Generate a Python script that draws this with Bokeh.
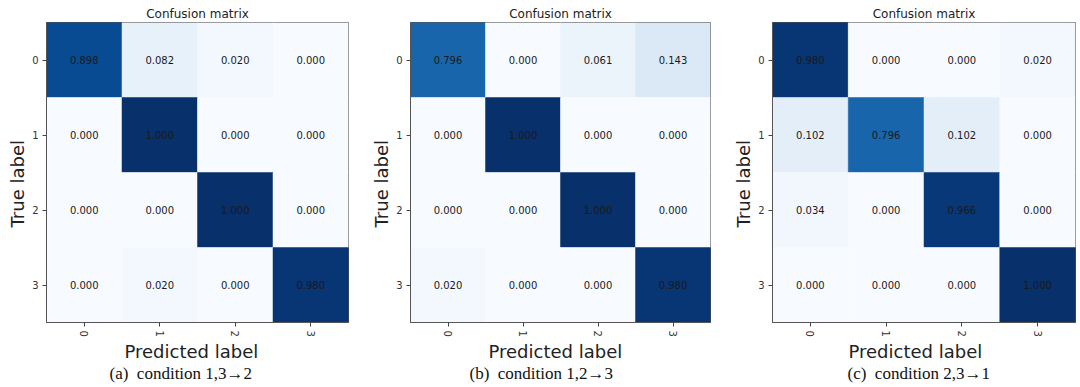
import numpy as np
from bokeh.plotting import figure
from bokeh.models import ColumnDataSource, LinearColorMapper, FactorRange, Title
from bokeh.layouts import row
from bokeh.embed import file_html
from bokeh.resources import INLINE

classes = ["0", "1", "2", "3"]

cm_a = [[0.898, 0.082, 0.020, 0.000],
        [0.000, 1.000, 0.000, 0.000],
        [0.000, 0.000, 1.000, 0.000],
        [0.000, 0.020, 0.000, 0.980]]

cm_b = [[0.796, 0.000, 0.061, 0.143],
        [0.000, 1.000, 0.000, 0.000],
        [0.000, 0.000, 1.000, 0.000],
        [0.020, 0.000, 0.000, 0.980]]

cm_c = [[0.980, 0.000, 0.000, 0.020],
        [0.102, 0.796, 0.102, 0.000],
        [0.034, 0.000, 0.966, 0.000],
        [0.000, 0.000, 0.000, 1.000]]

captions = ["(a)\u00a0\u00a0condition 1,3\u21922",
            "(b)\u00a0\u00a0condition 1,2\u21923",
            "(c)\u00a0\u00a0condition 2,3\u21921"]

# matplotlib "Blues" colormap anchors
blues_anchors = ["#f7fbff", "#deebf7", "#c6dbef", "#9ecae1", "#6baed6",
                 "#4292c6", "#2171b5", "#08519c", "#08306b"]


def build_palette(anchors, n=256):
    rgb = np.array([[int(h[i:i + 2], 16) for i in (1, 3, 5)] for h in anchors], float)
    pos = np.linspace(0, 1, len(anchors))
    t = np.linspace(0, 1, n)
    out = []
    for tt in t:
        c = [np.interp(tt, pos, rgb[:, k]) for k in range(3)]
        out.append("#%02x%02x%02x" % tuple(int(round(v)) for v in c))
    return out


palette = build_palette(blues_anchors)
FONT = "DejaVu Sans"


def make_panel(cm, caption, width, left, right, ylab_off, xlab_off, cap_off):
    xs, ys, vs, labels = [], [], [], []
    for i, rowv in enumerate(cm):
        for j, v in enumerate(rowv):
            xs.append(classes[j])
            ys.append(classes[i])
            vs.append(v)
            labels.append("%.3f" % v)
    src = ColumnDataSource(dict(x=xs, y=ys, v=vs, label=labels))
    mapper = LinearColorMapper(palette=palette, low=min(vs), high=max(vs))

    p = figure(width=width, height=387,
               x_range=FactorRange(factors=classes),
               y_range=FactorRange(factors=classes[::-1]),
               output_backend="svg", toolbar_location=None,
               min_border_left=left, min_border_right=right,
               min_border_top=22, min_border_bottom=65)
    p.rect(x="x", y="y", width=1, height=1, source=src,
           fill_color={"field": "v", "transform": mapper},
           line_color={"field": "v", "transform": mapper}, line_width=0.5)
    p.text(x="x", y="y", text="label", source=src,
           text_align="center", text_baseline="middle",
           text_font_size="10px", text_color="#1a1a1a", text_font={"value": FONT})

    p.title.text = "Confusion matrix"
    p.title.align = "center"
    p.title.text_font = FONT
    p.title.text_font_size = "12px"
    p.title.text_font_style = "normal"
    p.title.text_color = "#222222"
    p.title.standoff = 3

    # axis labels (as titles so that they can be offset like the reference)
    p.add_layout(Title(text="True label", align="left", offset=ylab_off,
                       text_font=FONT, text_font_size="18px",
                       text_font_style="normal", text_color="#222222",
                       standoff=4), "left")
    p.add_layout(Title(text="Predicted label", align="left", offset=xlab_off,
                       vertical_align="middle",
                       text_font=FONT, text_font_size="18px",
                       text_font_style="normal", text_color="#222222",
                       standoff=0), "below")
    p.add_layout(Title(text=caption, align="left", offset=cap_off,
                       vertical_align="middle",
                       text_font="Liberation Serif", text_font_size="17px",
                       text_font_style="normal", text_color="#111111",
                       standoff=0), "below")

    p.grid.grid_line_color = None
    p.outline_line_color = "#555555"
    p.outline_line_width = 1
    p.background_fill_color = "white"
    p.border_fill_color = "white"

    for ax in (p.xaxis, p.yaxis):
        ax.axis_line_color = "#555555"
        ax.major_tick_line_color = "#444444"
        ax.major_tick_out = 4
        ax.major_tick_in = 0
        ax.minor_tick_line_color = None
        ax.major_label_text_font = FONT
        ax.major_label_text_font_size = "10px"
        ax.major_label_text_color = "#333333"
        ax.major_label_standoff = 4

    p.xaxis.major_label_orientation = "vertical"
    return p


p1 = make_panel(cm_a, captions[0], 366, 46, 18, 95, 78, 63)
p2 = make_panel(cm_b, captions[1], 362, 42, 18, 95, 78, 59)
p3 = make_panel(cm_c, captions[2], 352, 44, 5, 95, 76, 75)

layout = row(p1, p2, p3)
open("out.html", "w").write(file_html(layout, INLINE))
